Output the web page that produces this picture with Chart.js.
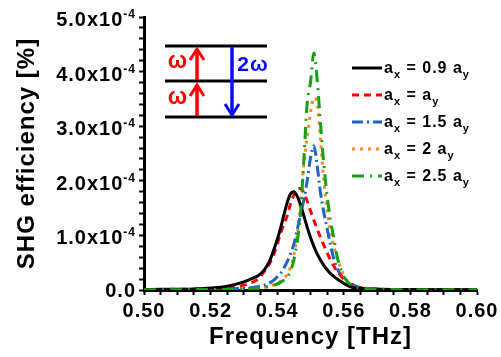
<!DOCTYPE html>
<html>
<head>
<meta charset="utf-8">
<script src="https://cdn.jsdelivr.net/npm/chart.js@4.4.1/dist/chart.umd.min.js"></script>
<style>
  html, body { margin: 0; padding: 0; background: #fff; }
  canvas { display: block; }
</style>
</head>
<body>
<canvas id="graficoSHG" width="501" height="357"></canvas>
<script>
// frequencia [THz]
const freq = [0.500, 0.505, 0.510, 0.515, 0.520, 0.525, 0.530, 0.532, 0.534, 0.536,
  0.537, 0.538, 0.539, 0.540, 0.541, 0.542, 0.543, 0.544, 0.545, 0.546,
  0.547, 0.548, 0.549, 0.550, 0.551, 0.552, 0.553, 0.554, 0.555, 0.556,
  0.557, 0.558, 0.559, 0.560, 0.562, 0.564, 0.566, 0.570, 0.575, 0.580,
  0.590, 0.600];

// eficiencia SHG, em unidades de 1e-4 %
const ef09 = [0.010, 0.012, 0.015, 0.020, 0.035, 0.070, 0.150, 0.200, 0.250, 0.360,
  0.450, 0.570, 0.740, 0.920, 1.130, 1.370, 1.600, 1.760, 1.800, 1.720,
  1.560, 1.360, 1.150, 0.960, 0.800, 0.660, 0.550, 0.450, 0.370, 0.300,
  0.250, 0.200, 0.160, 0.120, 0.060, 0.035, 0.025, 0.015, 0.010, 0.008,
  0.005, 0.004];
const ef10 = [0.008, 0.010, 0.012, 0.016, 0.025, 0.045, 0.090, 0.130, 0.190, 0.330,
  0.410, 0.520, 0.660, 0.830, 1.040, 1.200, 1.360, 1.580, 1.740, 1.850,
  1.860, 1.780, 1.630, 1.450, 1.280, 1.120, 0.960, 0.820, 0.680, 0.550,
  0.440, 0.340, 0.270, 0.200, 0.100, 0.050, 0.030, 0.015, 0.010, 0.007,
  0.005, 0.004];
const ef15 = [0.005, 0.006, 0.007, 0.009, 0.012, 0.018, 0.030, 0.040, 0.060, 0.090,
  0.110, 0.140, 0.180, 0.240, 0.300, 0.400, 0.520, 0.660, 0.840, 1.100,
  1.380, 1.650, 2.000, 2.420, 2.640, 2.280, 1.780, 1.420, 1.120, 0.830,
  0.570, 0.400, 0.280, 0.210, 0.120, 0.060, 0.035, 0.020, 0.010, 0.007,
  0.005, 0.004];
const ef20 = [0.004, 0.005, 0.006, 0.007, 0.009, 0.013, 0.020, 0.025, 0.035, 0.050,
  0.060, 0.080, 0.100, 0.130, 0.160, 0.210, 0.290, 0.420, 0.640, 1.000,
  1.600, 2.300, 2.800, 3.250, 3.520, 3.420, 2.750, 2.000, 1.450, 1.080,
  0.800, 0.580, 0.420, 0.270, 0.110, 0.050, 0.030, 0.015, 0.008, 0.006,
  0.004, 0.003];
const ef25 = [0.004, 0.005, 0.006, 0.007, 0.009, 0.013, 0.020, 0.025, 0.035, 0.050,
  0.060, 0.075, 0.090, 0.110, 0.140, 0.180, 0.240, 0.350, 0.550, 0.880,
  1.400, 2.380, 3.420, 3.800, 4.340, 3.850, 3.050, 2.300, 1.720, 1.280,
  0.950, 0.610, 0.400, 0.240, 0.100, 0.050, 0.030, 0.015, 0.008, 0.006,
  0.004, 0.003];

const legendas = ['a_x = 0.9 a_y', 'a_x = a_y', 'a_x = 1.5 a_y', 'a_x = 2 a_y', 'a_x = 2.5 a_y'];
const rotulosX = ['0.50', '0.52', '0.54', '0.56', '0.58', '0.60'];
const rotulosY = [0, 1, 2, 3, 4, 5];

const FONTE = '"Liberation Sans", Arial, sans-serif';

function pontos(serie) {
  return freq.map((f, i) => ({ x: f, y: serie[i] }));
}

// texto com subindice: "a_x" -> a com x embaixo
function textoIndice(ctx, txt, x, y, tam) {
  const partes = txt.split(/(_\w)/).filter(p => p.length);
  partes.forEach(p => {
    if (p[0] === '_') {
      ctx.font = 'bold ' + Math.round(tam * 0.68) + 'px ' + FONTE;
      ctx.fillText(p[1], x, y + 5);
      x += ctx.measureText(p[1]).width;
    } else {
      ctx.font = 'bold ' + tam + 'px ' + FONTE;
      ctx.fillText(p, x, y);
      x += ctx.measureText(p).width;
    }
  });
}

function seta(ctx, x, yIni, yFim, cor) {
  const dir = yFim < yIni ? 1 : -1;
  ctx.strokeStyle = cor;
  ctx.lineWidth = 3.5;
  ctx.lineCap = 'butt';
  ctx.beginPath();
  ctx.moveTo(x, yIni);
  ctx.lineTo(x, yFim + dir);
  ctx.stroke();
  ctx.lineWidth = 3;
  ctx.beginPath();
  ctx.moveTo(x - 7, yFim + dir * 12);
  ctx.lineTo(x, yFim + dir);
  ctx.lineTo(x + 7, yFim + dir * 12);
  ctx.stroke();
}

const pluginExtras = {
  id: 'extras',
  beforeDraw(chart) {
    chart.ctx.letterSpacing = '1px';
  },
  afterDraw(chart) {
    const ctx = chart.ctx;
    const escY = chart.scales.y;
    ctx.save();
    ctx.fillStyle = '#000';

    // rotulos do eixo y com expoente
    ctx.textAlign = 'right';
    ctx.textBaseline = 'alphabetic';
    rotulosY.forEach(v => {
      const py = escY.getPixelForValue(v);
      const xDir = 136;
      if (v === 0) {
        ctx.font = 'bold 20px ' + FONTE;
        ctx.fillText('0.0', xDir, py + 7);
        return;
      }
      ctx.font = 'bold 12px ' + FONTE;
      ctx.fillText('-4', xDir, py + 1);
      const w = ctx.measureText('-4').width;
      ctx.font = 'bold 20px ' + FONTE;
      ctx.fillText(v.toFixed(1) + 'x10', xDir - w, py + 9);
    });

    // legenda
    ctx.textAlign = 'left';
    chart.data.datasets.forEach((ds, i) => {
      const yl = 68 + i * 27;
      ctx.save();
      ctx.strokeStyle = ds.borderColor;
      ctx.lineWidth = 3;
      ctx.setLineDash(ds.borderDash || []);
      ctx.beginPath();
      ctx.moveTo(352, yl);
      ctx.lineTo(382, yl);
      ctx.stroke();
      ctx.restore();
      ctx.fillStyle = '#000';
      textoIndice(ctx, ds.label, 384, yl + 5, 16);
    });

    // diagrama de niveis
    ctx.strokeStyle = '#000';
    ctx.lineWidth = 3;
    [46, 81, 117].forEach(yn => {
      ctx.beginPath();
      ctx.moveTo(165, yn);
      ctx.lineTo(267, yn);
      ctx.stroke();
    });
    seta(ctx, 197, 80, 48, '#ff0000');
    seta(ctx, 197, 116, 84, '#ff0000');
    seta(ctx, 232, 47, 116, '#0a0aff');
    ctx.textAlign = 'center';
    ctx.textBaseline = 'middle';
    ctx.font = 'bold 23px ' + FONTE;
    ctx.fillStyle = '#ff0000';
    ctx.fillText('ω', 178, 62);
    ctx.fillText('ω', 178, 98);
    ctx.font = 'bold 21px ' + FONTE;
    ctx.fillStyle = '#0a0aff';
    ctx.fillText('2ω', 253, 65);
    ctx.restore();
  }
};

const ctx = document.getElementById('graficoSHG').getContext('2d');

const meuGrafico = new Chart(ctx, {
  type: 'line',
  data: {
    datasets: [
      { label: legendas[0], data: pontos(ef09), borderColor: '#000000', borderDash: [], order: 1 },
      { label: legendas[1], data: pontos(ef10), borderColor: '#ff0000', borderDash: [7, 5], order: 2 },
      { label: legendas[2], data: pontos(ef15), borderColor: '#1f62c4', borderDash: [11, 4, 2, 4], order: 3 },
      { label: legendas[3], data: pontos(ef20), borderColor: '#ff8a1c', borderDash: [3, 5], order: 4 },
      { label: legendas[4], data: pontos(ef25), borderColor: '#13a013', borderDash: [12, 6, 2, 6], order: 0 }
    ]
  },
  options: {
    responsive: false,
    animation: false,
    devicePixelRatio: 1,
    layout: { padding: { left: 0, right: 24, top: 17, bottom: 0 } },
    elements: {
      point: { radius: 0 },
      line: { borderWidth: 3, fill: false, cubicInterpolationMode: 'monotone', borderCapStyle: 'butt' }
    },
    plugins: {
      legend: { display: false },
      tooltip: { enabled: false }
    },
    scales: {
      x: {
        type: 'linear',
        min: 0.5,
        max: 0.6,
        afterFit: s => { s.height = 67; },
        border: { display: true, color: '#000', width: 3 },
        grid: { drawOnChartArea: false, drawTicks: true, tickLength: 5, tickWidth: 2, tickColor: '#000' },
        ticks: {
          stepSize: 0.005,
          autoSkip: false,
          maxRotation: 0,
          padding: 4,
          color: '#000',
          font: { family: FONTE, size: 20, weight: 'bold' },
          callback: v => {
            const t = (Math.round(v * 1000) / 1000).toFixed(2);
            return (Math.round(v * 1000) % 20 === 0 && rotulosX.includes(t)) ? t : '';
          }
        },
        title: {
          display: true,
          text: 'Frequency [THz]',
          color: '#000',
          font: { family: FONTE, size: 24, weight: 'bold' },
          padding: { top: 0, bottom: 5 }
        }
      },
      y: {
        min: 0,
        max: 5,
        afterFit: s => { s.width = 144; },
        border: { display: true, color: '#000', width: 3 },
        grid: { drawOnChartArea: false, drawTicks: true, tickLength: 5, tickWidth: 2, tickColor: '#000' },
        ticks: {
          stepSize: 0.2,
          autoSkip: false,
          callback: () => ''
        },
        title: {
          display: true,
          text: 'SHG efficiency [%]',
          color: '#000',
          font: { family: FONTE, size: 24, weight: 'bold' },
          padding: { top: 13, bottom: 0 }
        }
      }
    }
  },
  plugins: [pluginExtras]
});
</script>
</body>
</html>
